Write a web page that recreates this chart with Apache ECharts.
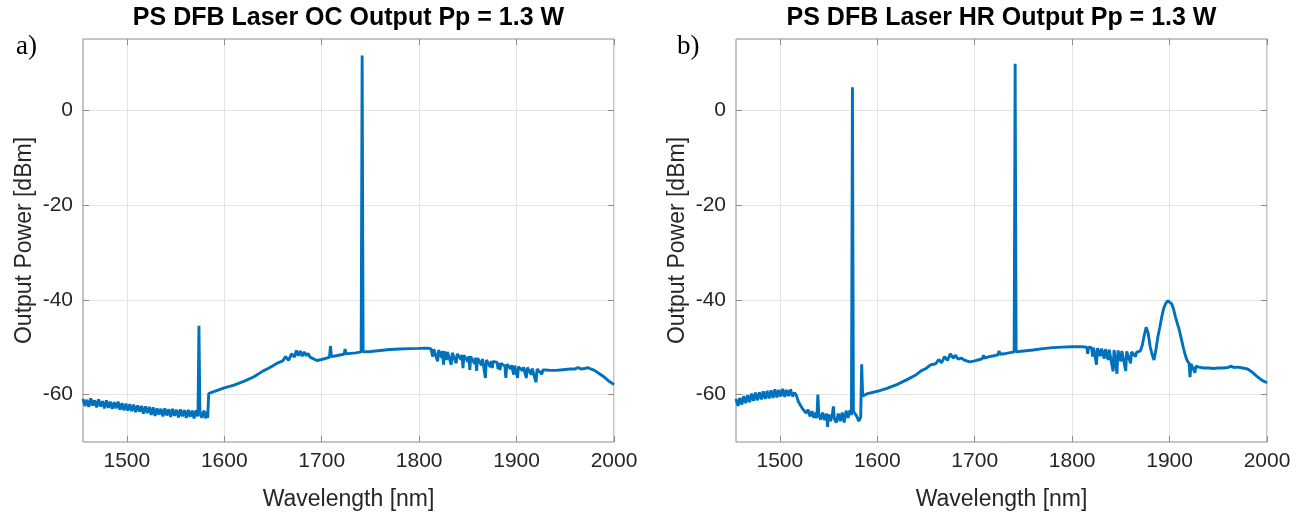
<!DOCTYPE html>
<html>
<head>
<meta charset="utf-8">
<script src="https://cdn.jsdelivr.net/npm/echarts@6/dist/echarts.min.js"></script>
<style>
html,body{margin:0;padding:0;background:#fff;}
#chart{width:1306px;height:516px;}
</style>
</head>
<body>
<div id="chart"></div>
<script>
// ---------- data ----------
const xTicks = [1500, 1600, 1700, 1800, 1900, 2000];
const yTicks = [-60, -40, -20, 0];
const titles = ['PS DFB Laser OC Output Pp = 1.3 W', 'PS DFB Laser HR Output Pp = 1.3 W'];
const panelLabels = ['a)', 'b)'];

// a) OC output
const ocWl = [
1455,1457,1459,1461,1463,1465,1467,1469,1471,1473,1475,1477,1479,1481,1483,1485,1487,1489,1491,1493,
1495,1497,1499,1501,1503,1505,1507,1509,1511,1513,1515,1517,1519,1521,1523,1525,1527,1529,1531,1533,
1535,1537,1539,1541,1543,1545,1547,1549,1551,1553,1555,1557,1559,1561,1563,1565,1567,1569,1571,1573,
1574,1575,1577,1579,1581,1582,1583,1584,1586,1590,1600,1610,1620,1630,1640,1645,1650,1655,1660,1663,
1666,1669,1672,1674,1676,1678,1680,1682,1684,1686,1688,1690,1695,1700,1705,1708,1709,1710,1715,1720,
1723,1724,1725,1730,1735,1740.5,1741.5,1742.5,1750,1760,1770,1780,1790,1800,1808,1812,1814,1815,1817,1819,
1820,1822,1823,1824,1825,1826,1828,1829,1831,1833,1834,1836,1838,1839,1841,1843,1844,1845,1846,1848,
1850,1851,1852,1853,1855,1857,1858,1859,1860,1862,1864,1865,1868,1869,1871,1873,1874,1875,1876,1878,
1880,1881,1882,1883,1884,1886,1888,1889,1890,1892,1894,1895,1897,1898,1900,1901,1902,1904,1906,1907,
1910,1911,1913,1915,1916,1918,1920,1921,1923,1926,1927,1930,1935,1940,1945,1950,1955,1960,1963,1966,
1968,1970,1973,1976,1980,1985,1990,1995,2000];
const ocDbm = [
-60.9,-62.4,-61.1,-62.6,-60.8,-62.3,-61.2,-62.7,-61.0,-62.5,-61.4,-62.9,-61.2,-62.8,-61.5,-63.0,-61.6,-62.9,-61.5,-63.2,
-61.8,-63.3,-61.9,-63.4,-62.0,-63.5,-62.1,-63.7,-62.3,-63.6,-62.4,-64.0,-62.5,-63.9,-62.6,-64.3,-62.7,-64.5,-62.9,-64.2,
-63.0,-64.6,-62.9,-64.4,-63.1,-64.7,-63.0,-64.5,-63.2,-64.8,-63.1,-64.6,-63.3,-64.9,-63.2,-64.7,-63.4,-65.0,-63.3,-64.6,
-45.5,-63.6,-64.9,-63.4,-65.0,-63.6,-64.9,-59.8,-59.5,-59.3,-58.6,-58.0,-57.2,-56.3,-55.0,-54.5,-53.9,-53.3,-52.9,-52.0,
-52.8,-51.4,-52.1,-50.7,-51.8,-50.8,-51.9,-51.0,-51.8,-51.3,-52.1,-52.3,-52.8,-52.6,-52.3,-52.1,-49.8,-52.0,-51.8,-51.6,
-51.5,-50.4,-51.4,-51.3,-51.2,-51.0,11.5,-51.0,-50.9,-50.7,-50.5,-50.4,-50.3,-50.25,-50.2,-50.3,-52.0,-50.4,-50.5,-53.0,
-50.6,-50.7,-52.2,-50.8,-53.7,-50.9,-52.7,-51.0,-51.1,-53.7,-51.2,-51.3,-53.4,-51.4,-51.5,-52.6,-51.6,-54.4,-51.7,-51.8,
-53.1,-51.9,-54.8,-52.0,-52.1,-53.5,-52.2,-55.0,-52.3,-52.4,-53.8,-52.5,-56.5,-52.7,-52.8,-54.2,-52.9,-54.4,-53.0,-53.1,
-53.2,-54.6,-53.3,-54.8,-53.4,-53.5,-54.0,-56.5,-53.6,-53.7,-54.6,-53.8,-55.8,-53.9,-54.0,-56.5,-54.1,-54.2,-55.0,-54.2,
-56.5,-54.3,-54.4,-55.8,-54.5,-54.6,-57.4,-54.6,-54.7,-55.7,-54.8,-54.8,-54.9,-54.9,-54.8,-54.7,-54.6,-54.6,-54.3,-54.6,
-54.2,-54.5,-54.3,-54.6,-54.9,-55.6,-56.3,-57.2,-57.9];

// b) HR output
const hrWl = [
1455,1457,1459,1461,1463,1465,1467,1469,1471,1473,1475,1477,1479,1481,1483,1485,1487,1489,1491,1493,
1495,1497,1499,1501,1503,1505,1507,1509,1511,1513,1515,1517,1519,1521,1523,1525,1527,1529,1531,1533,
1535,1537,1538,1539,1540,1542,1544,1546,1548,1549,1550,1552,1554,1555,1556,1558,1560,1562,1564,1566,
1568,1570,1572,1573.5,1574.5,1575.5,1577,1579,1581,1582,1583,1584,1585,1586,1590,1600,1610,1620,1630,1640,
1645,1650,1655,1660,1663,1666,1669,1672,1675,1678,1680,1683,1686,1690,1695,1700,1705,1708,1709,1710,
1715,1720,1724,1725,1726,1730,1735,1740.5,1741.5,1742.5,1750,1760,1770,1780,1790,1800,1810,1815,1816,1817,
1820,1821,1822,1824,1825,1826,1828,1829,1830,1832,1833,1834,1836,1837,1838,1840,1842,1843,1845,1846,
1847,1849,1850,1851,1853,1855,1856,1858,1860,1861,1863,1865,1866,1868,1870,1872,1874,1876,1878,1880,
1882,1884,1886,1888,1890,1892,1894,1896,1898,1900,1902,1904,1906,1908,1910,1912,1914,1916,1918,1920,
1921,1922,1924,1926,1927,1930,1935,1940,1945,1950,1955,1960,1963,1966,1970,1975,1980,1985,1990,1995,
2000];
const hrDbm = [
-60.9,-62.4,-60.7,-62.1,-60.3,-61.8,-60.1,-61.6,-59.8,-61.3,-59.6,-61.2,-59.5,-61.0,-59.3,-60.9,-59.2,-60.8,-59.1,-60.7,
-58.9,-60.6,-59.0,-60.4,-58.8,-60.5,-59.0,-60.3,-58.9,-60.4,-59.6,-60.2,-61.5,-61.5,-62.9,-62.6,-63.9,-63.2,-64.6,-63.5,
-64.9,-63.8,-65.0,-60.0,-64.0,-65.3,-63.8,-65.4,-64.0,-66.8,-64.2,-65.6,-63.9,-62.5,-65.2,-65.9,-64.0,-65.6,-63.8,-65.9,
-63.4,-64.9,-63.3,-64.3,4.8,-63.5,-64.0,-64.6,-65.6,-65.6,-64.8,-53.6,-60.3,-60.0,-59.8,-59.3,-58.7,-57.9,-56.9,-55.8,
-55.0,-54.5,-53.7,-53.5,-52.6,-53.3,-52.0,-52.8,-51.4,-52.3,-51.7,-52.5,-52.3,-52.8,-53.1,-52.9,-52.6,-52.4,-51.7,-52.3,
-52.0,-51.8,-51.6,-50.8,-51.5,-51.4,-51.2,-51.0,9.8,-51.0,-50.8,-50.6,-50.3,-50.1,-50.0,-49.9,-49.9,-50.0,-51.4,-50.0,
-50.1,-52.0,-50.1,-50.2,-53.7,-50.2,-50.3,-51.9,-50.3,-50.4,-52.4,-50.4,-50.5,-52.7,-50.5,-50.6,-55.1,-50.6,-50.7,-55.6,
-50.7,-50.8,-53.0,-50.8,-50.9,-55.0,-50.9,-51.0,-53.4,-51.0,-51.0,-52.0,-51.1,-51.2,-50.8,-49.6,-47.5,-45.8,-47.0,-49.8,
-51.5,-52.7,-50.5,-47.8,-45.8,-43.6,-41.8,-40.8,-40.2,-40.2,-40.8,-41.9,-43.6,-45.0,-46.4,-48.2,-50.0,-51.6,-52.8,-53.4,
-56.3,-53.5,-53.9,-55.4,-54.0,-54.2,-54.4,-54.4,-54.5,-54.4,-54.4,-54.3,-54.0,-54.3,-54.2,-54.4,-54.6,-55.3,-56.2,-57.0,
-57.5];

// ---------- chart ----------
const FONT = '"Liberation Sans", Arial, Helvetica, sans-serif';
const grids = [
  {left: 83, top: 39, width: 531, height: 405},
  {left: 736, top: 39, width: 531, height: 405}
];
const series = [[ocWl, ocDbm], [hrWl, hrDbm]];
const tickStyle = {show: true, inside: true, length: 6, lineStyle: {color: '#8c8c8c'}};

const option = {
  animation: false,
  backgroundColor: '#ffffff',
  grid: grids.map(g => Object.assign({show: true, borderColor: '#8c8c8c', borderWidth: 1, backgroundColor: '#fff', containLabel: false}, g)),
  xAxis: [],
  yAxis: [],
  series: [],
  graphic: []
};

for (let i = 0; i < 2; i++) {
  option.xAxis.push({
    type: 'value', gridIndex: i, min: 1455, max: 2000, position: 'bottom',
    name: 'Wavelength [nm]', nameLocation: 'middle', nameGap: 46,
    nameTextStyle: {fontSize: 23, color: '#262626', fontFamily: FONT},
    axisLine: {show: false, onZero: false},
    axisTick: Object.assign({customValues: xTicks}, tickStyle),
    axisLabel: {show: true, customValues: xTicks, formatter: v => String(v), fontSize: 21, color: '#262626', fontFamily: FONT, margin: 9},
    splitLine: {show: true, lineStyle: {color: '#e4e4e4', width: 1}}
  });
  option.xAxis.push({
    type: 'value', gridIndex: i, min: 1455, max: 2000, position: 'top',
    axisLine: {show: false, onZero: false},
    axisTick: Object.assign({customValues: xTicks}, tickStyle),
    axisLabel: {show: false},
    splitLine: {show: false}
  });
  option.yAxis.push({
    type: 'value', gridIndex: i, min: -70, max: 15, position: 'left',
    name: 'Output Power [dBm]', nameLocation: 'middle', nameGap: 47, nameRotate: 90,
    nameTextStyle: {fontSize: 23, color: '#262626', fontFamily: FONT},
    axisLine: {show: false, onZero: false},
    axisTick: Object.assign({customValues: yTicks}, tickStyle),
    axisLabel: {show: true, customValues: yTicks, formatter: v => String(v), fontSize: 21, color: '#262626', fontFamily: FONT, margin: 10},
    splitLine: {show: true, lineStyle: {color: '#e4e4e4', width: 1}}
  });
  option.yAxis.push({
    type: 'value', gridIndex: i, min: -70, max: 15, position: 'right',
    axisLine: {show: false, onZero: false},
    axisTick: Object.assign({customValues: yTicks}, tickStyle),
    axisLabel: {show: false},
    splitLine: {show: false}
  });
  const wl = series[i][0], db = series[i][1];
  option.series.push({
    type: 'line', xAxisIndex: i * 2, yAxisIndex: i * 2,
    data: wl.map((w, k) => [w, db[k]]),
    showSymbol: false, symbol: 'none', silent: true,
    lineStyle: {color: '#0072BD', width: 2.9},
    clip: true
  });
  const cx = grids[i].left + grids[i].width / 2;
  option.graphic.push({
    type: 'text', x: cx, y: 18,
    style: {text: titles[i], font: 'bold 25px ' + FONT, fill: '#000', align: 'center', verticalAlign: 'middle'}
  });
}
option.graphic.push({
  type: 'text', x: 16, y: 47,
  style: {text: panelLabels[0], font: '27px "Liberation Serif", "Times New Roman", serif', fill: '#000', align: 'left', verticalAlign: 'middle'}
});
option.graphic.push({
  type: 'text', x: 677, y: 47,
  style: {text: panelLabels[1], font: '27px "Liberation Serif", "Times New Roman", serif', fill: '#000', align: 'left', verticalAlign: 'middle'}
});

const chart = echarts.init(document.getElementById('chart'), null, {renderer: 'canvas'});
chart.setOption(option);
</script>
</body>
</html>
